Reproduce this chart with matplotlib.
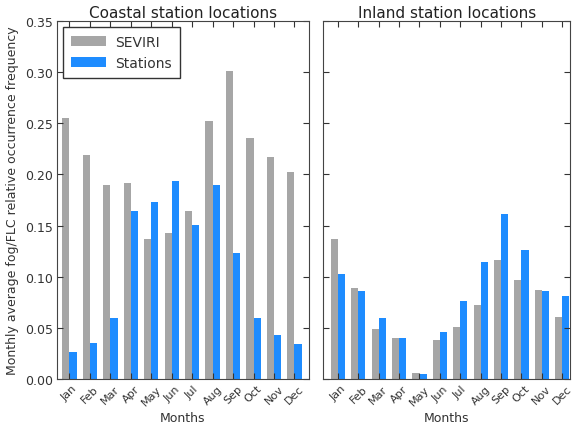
import matplotlib
matplotlib.use('Agg')
import matplotlib.pyplot as plt
import numpy as np

plt.rcParams['font.family'] = ['DejaVu Sans']

months = ['Jan', 'Feb', 'Mar', 'Apr', 'May', 'Jun', 'Jul', 'Aug', 'Sep', 'Oct', 'Nov', 'Dec']

coastal_seviri = [0.255, 0.219, 0.190, 0.192, 0.137, 0.143, 0.164, 0.252, 0.301, 0.236, 0.217, 0.202]
coastal_stations = [0.026, 0.035, 0.060, 0.164, 0.173, 0.194, 0.151, 0.190, 0.123, 0.060, 0.043, 0.034]

inland_seviri = [0.137, 0.089, 0.049, 0.040, 0.006, 0.038, 0.051, 0.072, 0.116, 0.097, 0.087, 0.061]
inland_stations = [0.103, 0.086, 0.060, 0.040, 0.005, 0.046, 0.076, 0.114, 0.161, 0.126, 0.086, 0.081]

GRAY = '#a6a6a6'
BLUE = '#1e8cff'
TXT = '#333333'

fig = plt.figure(figsize=(5.74, 4.31), dpi=100)
ax1 = fig.add_axes([0.0993, 0.1183, 0.439, 0.8306])
ax2 = fig.add_axes([0.5627, 0.1183, 0.431, 0.8306], sharey=ax1)

x = np.arange(len(months))
w = 0.35

panels = [
    (ax1, coastal_seviri, coastal_stations, 'Coastal station locations', (-0.61, 11.71)),
    (ax2, inland_seviri, inland_stations, 'Inland station locations', (-0.73, 11.40)),
]

for ax, sev, sta, title, xl in panels:
    ax.bar(x - w / 2, sev, w, color=GRAY, edgecolor='none', label='SEVIRI')
    ax.bar(x + w / 2, sta, w, color=BLUE, edgecolor='none', label='Stations')
    ax.set_xlim(*xl)
    ax.set_ylim(0, 0.35)
    ax.set_xticks(x)
    ax.set_xticklabels(months, rotation=45, ha='center', fontsize=8, color=TXT)
    ax.set_xlabel('Months', fontsize=9, color=TXT, labelpad=3)
    ax.set_title(title, fontsize=11, color='#222222', pad=3)
    ax.tick_params(direction='in', top=True, right=True, length=4, labelsize=9,
                   colors=TXT, pad=3)
    ax.tick_params(axis='x', labelsize=8)
    for s in ax.spines.values():
        s.set_color('#444444')

ax1.set_yticks(np.arange(0, 0.36, 0.05))
ax1.set_yticklabels(['%.2f' % v for v in np.arange(0, 0.36, 0.05)])
ax1.set_ylabel('Monthly average fog/FLC relative occurrence frequency', fontsize=9, color=TXT, labelpad=4)
plt.setp(ax2.get_yticklabels(), visible=False)

leg = ax1.legend(loc='upper left', fontsize=10, fancybox=False, framealpha=1,
                 handlelength=2.5, handletextpad=0.7, borderaxespad=0.4, borderpad=0.6)
leg.get_frame().set_edgecolor('#333333')
for t in leg.get_texts():
    t.set_color(TXT)

fig.savefig('out.png', dpi=100)
